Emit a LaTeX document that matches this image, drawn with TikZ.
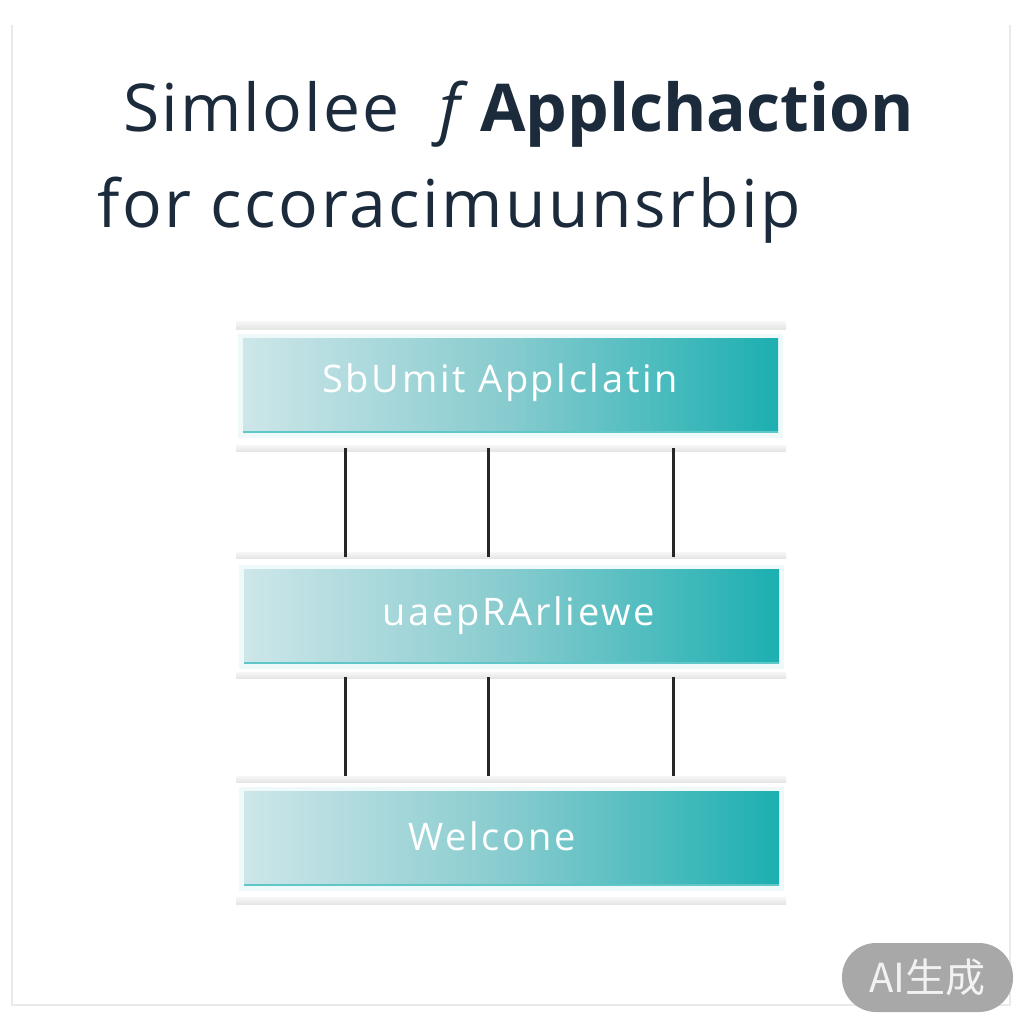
\documentclass[tikz,border=0pt]{standalone}
\usepackage{fontspec}
\setmainfont{Open Sans}
\newfontfamily\titlefontA[LetterSpace=3.2]{Open Sans}
\newfontfamily\titlefontBold{Open Sans}
\newfontfamily\titlefontB[LetterSpace=3.8]{Open Sans}
\newfontfamily\boxfont[LetterSpace=7]{Open Sans}
\newfontfamily\cjkfont{Noto Sans CJK SC}
\usetikzlibrary{calc}
\definecolor{titleC}{HTML}{1B2B3C}
\definecolor{boxL}{HTML}{CDE6E9}
\definecolor{boxM}{HTML}{86CBCE}
\definecolor{boxR}{HTML}{1CAFB1}
\definecolor{badgeC}{HTML}{A8A8A8}
\definecolor{badgeT}{HTML}{F2F2F2}
\definecolor{frameC}{HTML}{EAEAEA}
\tikzset{
  x=1pt,y=-1pt,
  stagebox/.style={minimum width=535pt,minimum height=94pt,inner sep=0pt,
    left color=boxL,right color=boxR,middle color=boxM,draw=none},
  glowbox/.style={minimum width=545pt,minimum height=104pt,inner sep=0pt,fill=boxR!7,draw=none},
  boxtext/.style={text=white,font=\boxfont\fontsize{38}{44}\selectfont,inner sep=0pt},
  titletext/.style={text=titleC,inner sep=0pt,anchor=base west},
  linkline/.style={draw=black!85,line width=3pt},
  band/.style={top color=black!3,bottom color=black!10,draw=none},
}
\begin{document}
\begin{tikzpicture}
\useasboundingbox[fill=white] (0,0) rectangle (1024,1024);
% faint page frame
\draw[frameC,line width=2pt] (12,25) -- (12,1005) -- (1010,1005) -- (1010,25);
% title
\node[titletext,font=\titlefontA\fontsize{66}{72}\selectfont] (t1) at (123,132)
  {Simlolee\hspace{0.6em}\textit{f}\hspace{0.15em}{\titlefontBold\bfseries Applchaction}};
\node[titletext,font=\titlefontB\fontsize{66}{72}\selectfont] (t2) at (97,228) {for ccoracimuunsrbip};
% shadow bands
\fill[band] (236,321) rectangle (786,329);
\fill[band] (236,445) rectangle (786,451);
\fill[band] (236,552) rectangle (786,558);
\fill[band] (236,672) rectangle (786,678);
\fill[band] (236,776) rectangle (786,782);
\fill[band] (236,897) rectangle (786,904);
% glows
\node[glowbox] (g1) at (510.5,386) {};
\node[glowbox] (g2) at (511.5,617) {};
\node[glowbox] (g3) at (511.5,839) {};
% boxes
\node[stagebox] (b1) at (510.5,385) {};
\node[stagebox] (b2) at (511.5,616) {};
\node[stagebox] (b3) at (511.5,838) {};
\draw[boxR!70,line width=2pt] (b1.south west) -- (b1.south east);
\draw[boxR!70,line width=2pt] (b2.south west) -- (b2.south east);
\draw[boxR!70,line width=2pt] (b3.south west) -- (b3.south east);
\node[boxtext] (l1) at (500,383) {SbUmit Applclatin};
\node[boxtext] (l2) at (519,616) {uaepRArliewe};
\node[boxtext] (l3) at (492,836) {Welcone};
% column guides
\coordinate (c1) at (345,0);
\coordinate (c2) at (488,0);
\coordinate (c3) at (673,0);
\foreach \c in {c1,c2,c3}{
  \draw[linkline,shorten <=16pt,shorten >=12pt] (b1.south -| \c) -- (b2.north -| \c);
  \draw[linkline,shorten <=14pt,shorten >=15pt] (b2.south -| \c) -- (b3.north -| \c);
}
% badge
\node[fill=badgeC,rounded corners=34pt,minimum width=171pt,minimum height=69pt,inner sep=0pt,
  text=badgeT,font=\cjkfont\fontsize{40}{42}\selectfont] (badge) at (927.5,977.5) {AI生成};
\end{tikzpicture}
\end{document}
